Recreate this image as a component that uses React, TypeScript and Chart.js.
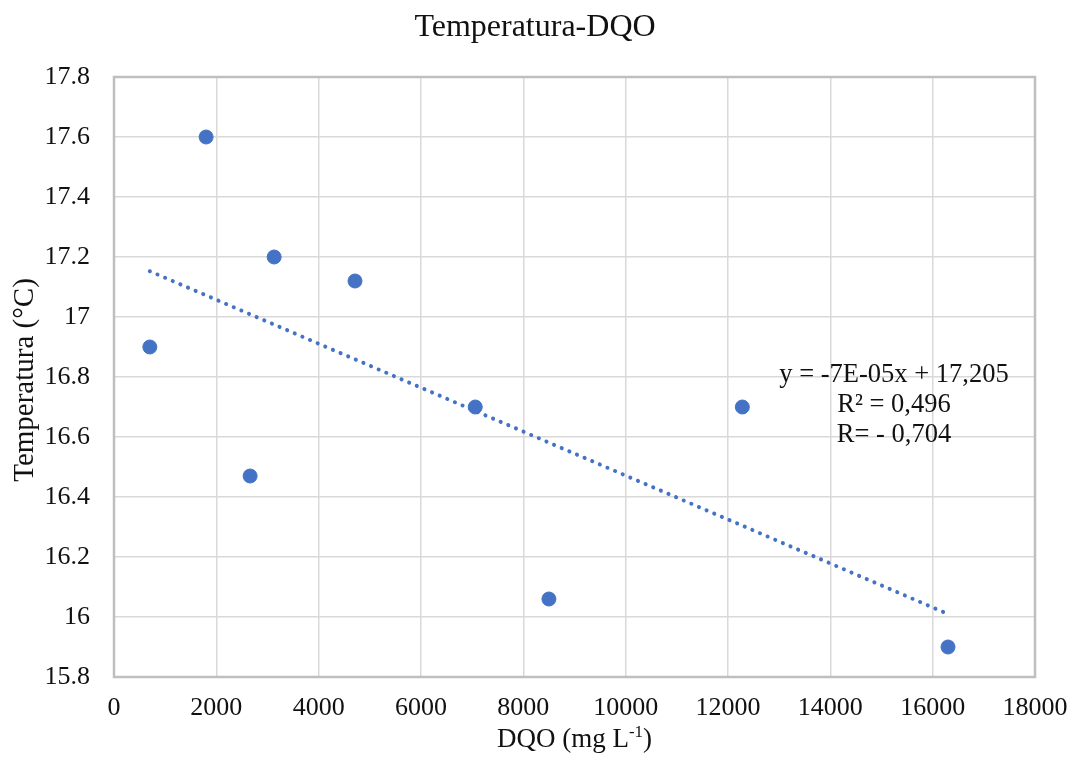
import { useEffect, useRef } from "react";
import { Chart, registerables } from "chart.js";

Chart.register(...registerables);

// Measured samples: DQO (mg/L) against water temperature (°C)
const dqo = [700, 1800, 2660, 3130, 4710, 7060, 8500, 12280, 16300];
const temperatura = [16.9, 17.6, 16.47, 17.2, 17.12, 16.7, 16.06, 16.7, 15.9];

// Axis ticks
const xTicks = [0, 2000, 4000, 6000, 8000, 10000, 12000, 14000, 16000, 18000];
const xTickLabels = ["0", "2000", "4000", "6000", "8000", "10000", "12000", "14000", "16000", "18000"];
const yTicks = [15.8, 16, 16.2, 16.4, 16.6, 16.8, 17, 17.2, 17.4, 17.6, 17.8];
const yTickLabels = ["15.8", "16", "16.2", "16.4", "16.6", "16.8", "17", "17.2", "17.4", "17.6", "17.8"];

// Texts
const chartTitle = "Temperatura-DQO";
const yTitle = "Temperatura (°C)";
const xTitleMain = "DQO (mg L";
const xTitleSup = "-1";
const xTitleEnd = ")";
const equationLines = ["y = -7E-05x + 17,205", "R² = 0,496", "R= - 0,704"];

const W = 1078;
const H = 764;
const BLUE = "#4472C4";
const SERIF = "'Liberation Serif', 'Times New Roman', serif";

// Least-squares fit of temperature on DQO
function linearFit(xs: number[], ys: number[]) {
  const n = xs.length;
  const mx = xs.reduce((a, b) => a + b, 0) / n;
  const my = ys.reduce((a, b) => a + b, 0) / n;
  let sxy = 0;
  let sxx = 0;
  for (let i = 0; i < n; i++) {
    sxy += (xs[i] - mx) * (ys[i] - my);
    sxx += (xs[i] - mx) * (xs[i] - mx);
  }
  const slope = sxy / sxx;
  return { slope, intercept: my - slope * mx };
}

const fit = linearFit(dqo, temperatura);
const xLo = Math.min(...dqo);
const xHi = Math.max(...dqo);
const trendPoints = [
  { x: xLo, y: fit.intercept + fit.slope * xLo },
  { x: xHi, y: fit.intercept + fit.slope * xHi },
];

const textPlugin = {
  id: "chartTexts",
  beforeDatasetsDraw(chart: any) {
    const { ctx, chartArea } = chart;
    ctx.save();
    ctx.strokeStyle = "#bfbfbf";
    ctx.lineWidth = 2.5;
    ctx.strokeRect(
      chartArea.left,
      chartArea.top,
      chartArea.right - chartArea.left,
      chartArea.bottom - chartArea.top
    );
    ctx.restore();
  },
  afterDraw(chart: any) {
    const { ctx, chartArea } = chart;
    ctx.save();
    ctx.fillStyle = "#111";
    ctx.textBaseline = "alphabetic";

    // Title
    ctx.font = `32px ${SERIF}`;
    ctx.textAlign = "center";
    ctx.fillText(chartTitle, 535, 36);

    // X axis title with superscript
    const cx = (chartArea.left + chartArea.right) / 2;
    ctx.font = `27px ${SERIF}`;
    const wMain = ctx.measureText(xTitleMain).width;
    const wEnd = ctx.measureText(xTitleEnd).width;
    ctx.font = `17px ${SERIF}`;
    const wSup = ctx.measureText(xTitleSup).width;
    const total = wMain + wSup + wEnd;
    let x0 = cx - total / 2;
    const by = 747;
    ctx.textAlign = "left";
    ctx.font = `27px ${SERIF}`;
    ctx.fillText(xTitleMain, x0, by);
    x0 += wMain;
    ctx.font = `17px ${SERIF}`;
    ctx.fillText(xTitleSup, x0, by - 10);
    x0 += wSup;
    ctx.font = `27px ${SERIF}`;
    ctx.fillText(xTitleEnd, x0, by);

    // Y axis title, rotated
    ctx.save();
    ctx.translate(33, 380);
    ctx.rotate(-Math.PI / 2);
    ctx.font = `29px ${SERIF}`;
    ctx.textAlign = "center";
    ctx.fillText(yTitle, 0, 0);
    ctx.restore();

    // Trendline equation
    ctx.font = `26.5px ${SERIF}`;
    ctx.textAlign = "center";
    equationLines.forEach((line, i) => {
      ctx.fillText(line, 894, 382 + i * 30);
    });
    ctx.restore();
  },
};

export default function App() {
  const canvasRef = useRef<HTMLCanvasElement | null>(null);

  useEffect(() => {
    const canvas = canvasRef.current;
    if (!canvas) return;
    const chart = new Chart(canvas, {
      type: "scatter",
      data: {
        datasets: [
          {
            label: "Temperatura",
            data: dqo.map((x, i) => ({ x, y: temperatura[i] })),
            backgroundColor: BLUE,
            borderColor: BLUE,
            pointRadius: 7,
            pointBorderWidth: 1,
            order: 2,
          },
          {
            type: "line",
            label: "Lineal",
            data: trendPoints,
            showLine: true,
            borderColor: BLUE,
            borderWidth: 4,
            borderDash: [0.1, 8.2],
            borderCapStyle: "round",
            pointRadius: 0,
            fill: false,
            order: 1,
          } as any,
        ],
      },
      options: {
        responsive: false,
        animation: false,
        devicePixelRatio: 1,
        layout: { padding: { top: 77, right: 43, left: 0, bottom: 0 } },
        plugins: {
          legend: { display: false },
          tooltip: { enabled: false },
          title: { display: false },
        },
        scales: {
          x: {
            type: "linear",
            min: 0,
            max: 18000,
            afterBuildTicks: (scale: any) => {
              scale.ticks = xTicks.map((v) => ({ value: v }));
            },
            afterFit: (scale: any) => {
              scale.height = 87;
              scale.paddingLeft = 0;
              scale.paddingRight = 0;
            },
            ticks: {
              padding: 16,
              maxRotation: 0,
              autoSkip: false,
              color: "#111",
              font: { family: SERIF, size: 26 },
              callback: (_v: any, i: number) => xTickLabels[i],
            },
            grid: { color: "#d9d9d9", lineWidth: 1.5, drawTicks: false },
            border: { display: false },
          },
          y: {
            type: "linear",
            min: 15.8,
            max: 17.8,
            afterBuildTicks: (scale: any) => {
              scale.ticks = yTicks.map((v) => ({ value: v }));
            },
            afterFit: (scale: any) => {
              scale.width = 114;
              scale.paddingTop = 0;
              scale.paddingBottom = 0;
            },
            ticks: {
              padding: 24,
              autoSkip: false,
              color: "#111",
              font: { family: SERIF, size: 26 },
              callback: (_v: any, i: number) => yTickLabels[i],
            },
            grid: { color: "#d9d9d9", lineWidth: 1.5, drawTicks: false },
            border: { display: false },
          },
        },
      },
      plugins: [textPlugin],
    });
    return () => chart.destroy();
  }, []);

  return (
    <div style={{ position: "absolute", left: 0, top: 0, width: W, height: H, background: "#fff" }}>
      <canvas ref={canvasRef} width={W} height={H} style={{ display: "block" }} />
    </div>
  );
}
